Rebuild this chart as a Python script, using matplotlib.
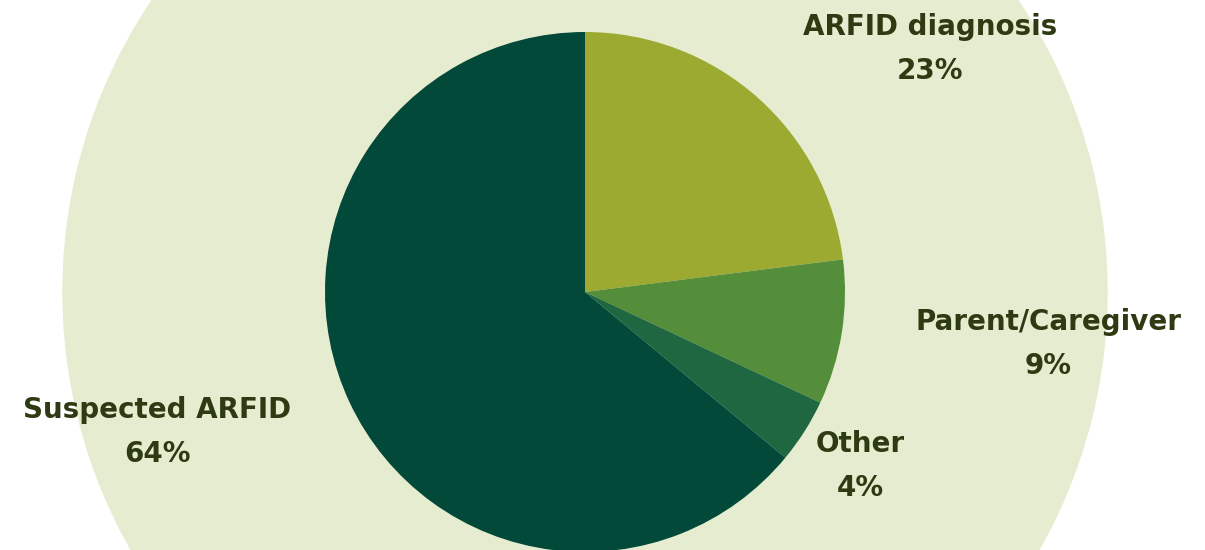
import matplotlib
matplotlib.use("Agg")
import matplotlib.pyplot as plt

labels = ["ARFID diagnosis", "Parent/Caregiver", "Other", "Suspected ARFID"]
shares = [23, 9, 4, 64]
colors = ["#9daa31", "#558e3b", "#1e6741", "#02493a"]

W, H = 1205, 550
CX, CY = 585, H - 292
PIE_R = 260
BG_R = 522
TEXT_C = "#2e3a12"

# label anchors in pixel coords (top-left origin): name line, pct below
label_pos = {
    "ARFID diagnosis": (930, 27),
    "Parent/Caregiver": (1048, 322),
    "Other": (860, 444),
    "Suspected ARFID": (157, 410),
}

fig = plt.figure(figsize=(W / 100, H / 100), dpi=100)
ax = fig.add_axes([0, 0, 1, 1])

ax.add_patch(plt.Circle((CX, CY), BG_R, color="#e6ecd0", zorder=0))
ax.pie(shares, colors=colors, startangle=90, counterclock=False,
       center=(CX, CY), radius=PIE_R, frame=True,
       wedgeprops=dict(linewidth=0, zorder=1))
ax.set_xlim(0, W)
ax.set_ylim(0, H)
ax.set_aspect("equal")
ax.axis("off")

for lab, val in zip(labels, shares):
    x, y = label_pos[lab]
    ax.text(x, H - y, lab, ha="center", va="center", fontsize=20,
            fontweight="bold", family="DejaVu Sans", color=TEXT_C, zorder=5)
    ax.text(x, H - y - 44, f"{val}%", ha="center", va="center",
            fontsize=20, fontweight="bold", family="DejaVu Sans",
            color=TEXT_C, zorder=5)

fig.savefig("out.png", dpi=100, facecolor="white")
